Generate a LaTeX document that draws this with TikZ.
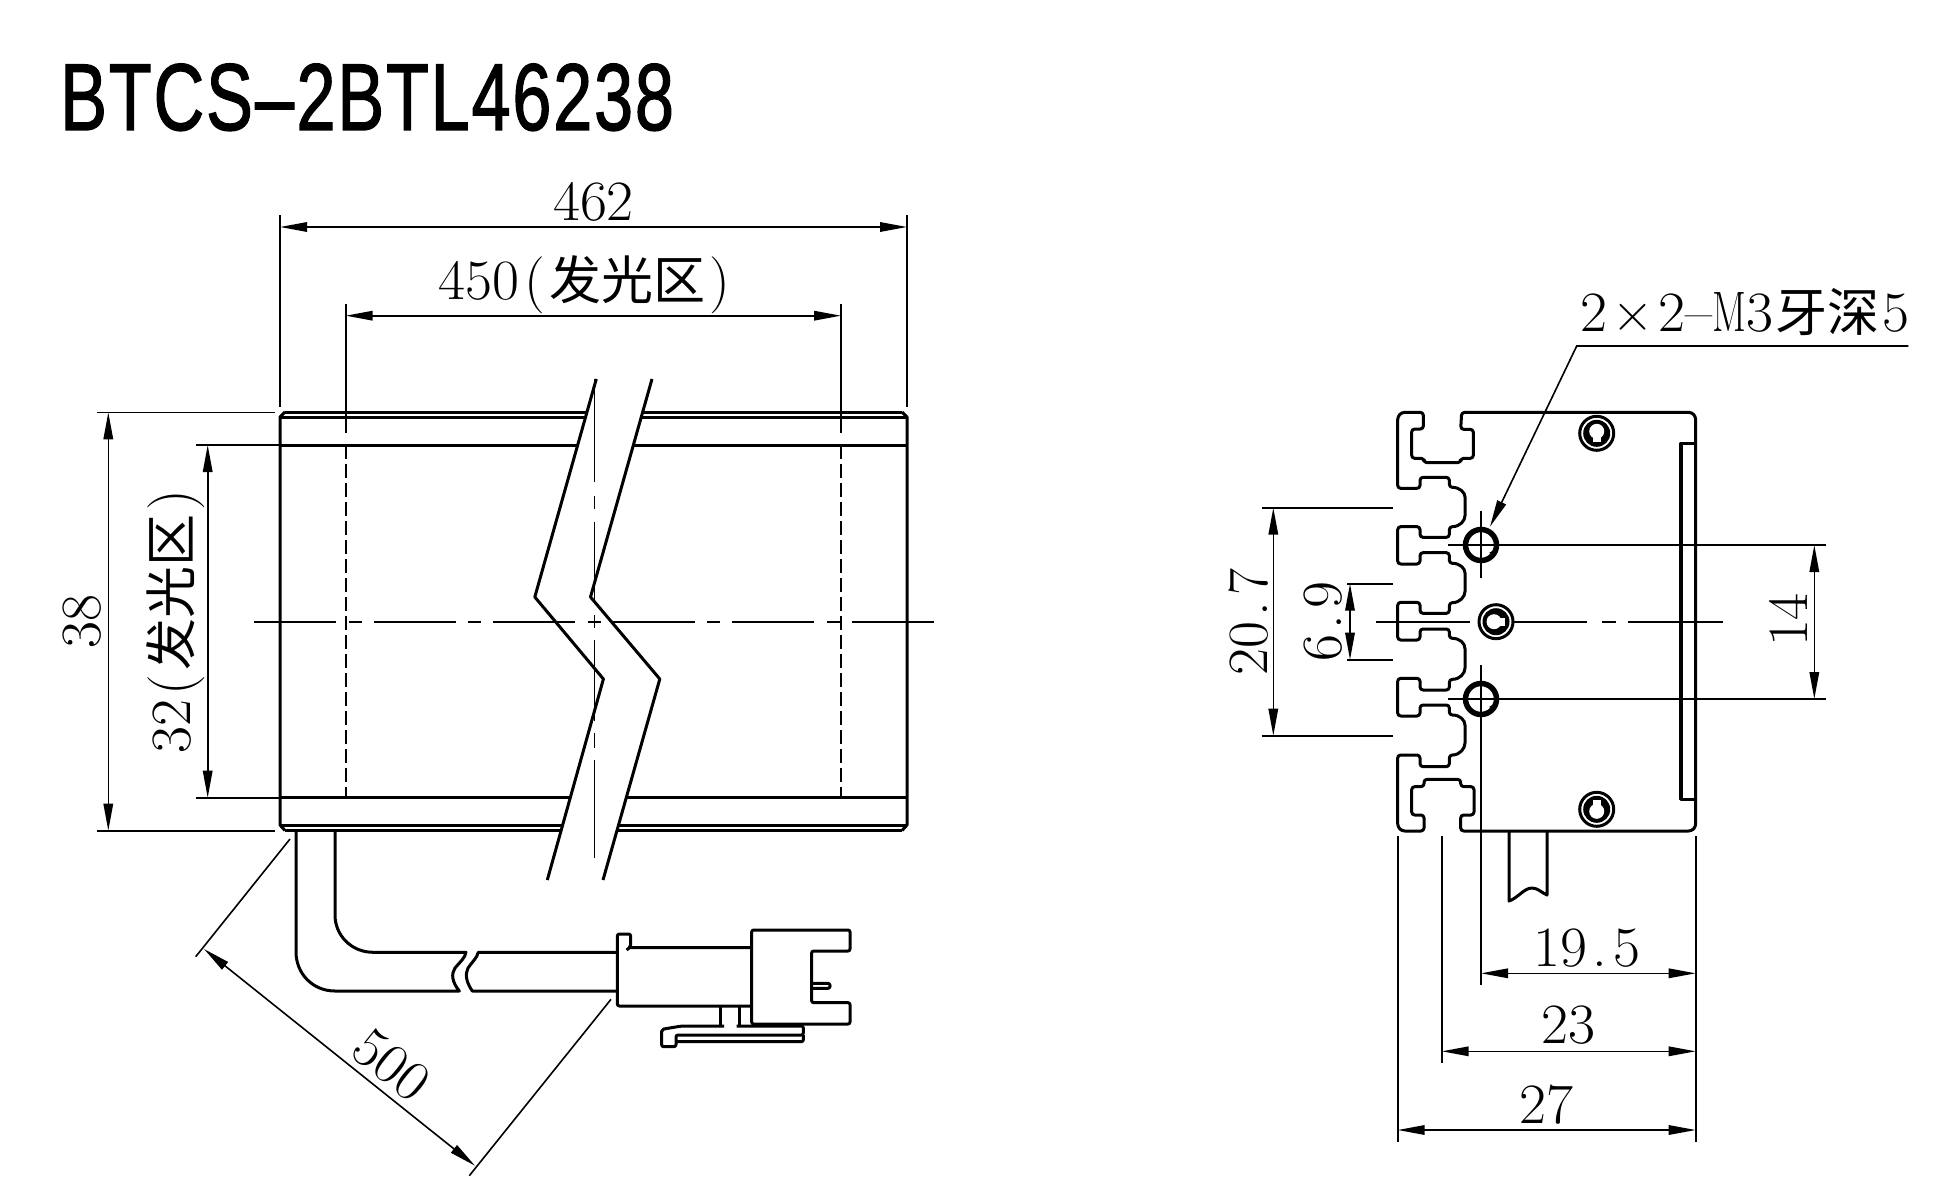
\documentclass[tikz,border=0pt]{standalone}
\usepackage{fontspec}
\usetikzlibrary{arrows.meta}
\newfontfamily\cnfont{Noto Sans CJK SC}
\newfontfamily\titlefont[FakeBold=1.5,LetterSpace=2.5]{Liberation Sans}
\newcommand{\nr}[1]{\scalebox{1.03}[1]{#1}}
\newcommand{\cn}[1]{{\cnfont\fontsize{52}{54}\selectfont #1}}
\newcommand{\sdot}{\kern5pt.\kern6pt}
\tikzset{
  outline/.style={line width=3pt,line join=round},
  thin line/.style={line width=1.6pt},
  hidden line/.style={line width=1.6pt,dash pattern=on 14pt off 5pt},
  center line/.style={line width=1.6pt,dash pattern=on 82pt off 12.5pt on 13pt off 12pt},
  dimline/.style={line width=1.6pt,{Triangle[length=27pt,width=9.5pt]}-{Triangle[length=27pt,width=9.5pt]}},
  dimtext/.style={inner sep=0pt,font=\fontsize{57}{60}\selectfont},
  screwhead/.pic={
    \draw[line width=3pt] (0,0) circle[radius=17];
    \fill (0,0) circle[radius=13.5];
    \fill[white] (0,-2) circle[radius=7.5];
    \fill[white] (-4,0) rectangle (4,9);
  },
}
\begin{document}
\begin{tikzpicture}[x=1pt,y=-1pt]
\useasboundingbox (0,0) rectangle (1940,1204);
\node[inner sep=0pt,anchor=base west,font=\titlefont\fontsize{95}{100}\selectfont] (title) at (60,130)
  {\scalebox{.74}[1]{BTCS\kern3pt–\kern3pt2BTL46238}};

% front view
\draw[outline] (285,412) -- (587,412) (280,417) -- (585.6,417) (280,445) -- (577.7,445)
  (642.7,412) -- (902,412) (641.3,417) -- (907,417) (633.4,445) -- (907,445)
  (280,797.7) -- (570.3,797.7) (280,825) -- (562.7,825) (285,830.5) -- (561.1,830.5)
  (626.3,797.7) -- (907,797.7) (618.6,825) -- (907,825) (617,830.5) -- (902,830.5);
\draw[outline] (285,412) -- (280,417) -- (280,825) -- (285,830.5)
  (902,412) -- (907,417) -- (907,825) -- (902,830.5);
\draw[outline] (596.3,379) -- (534.8,597) -- (603.4,679) -- (547.3,880);
\draw[outline] (652,379) -- (590.5,597) -- (659.8,679) -- (603,880);
\draw[hidden line] (345.7,445) -- (345.7,797.7) (841,445) -- (841,797.7);
\draw[center line] (254,621.7) -- (936,621.7);
\draw[thin line] (594.6,379) -- (594.6,481.5) (594.6,496) -- (594.6,509) (594.6,522) -- (594.6,603)
  (594.6,615) -- (594.6,628) (594.6,640) -- (594.6,721) (594.6,733) -- (594.6,748) (594.6,760) -- (594.6,858);

% cable
\draw[outline] (296,831) -- (296,951.7) .. controls (296,974) and (313,991) .. (335,991) -- (459.3,991)
  .. controls (452,982) and (451,974) .. (455,968) .. controls (460,962) and (465,958) .. (466,952.3)
  -- (373.3,952.3) .. controls (351,952.3) and (335,935) .. (335,915) -- (335,831);
\draw[outline] (616.7,952.3) -- (478.3,952.3) .. controls (477,958) and (472,962) .. (468,968)
  .. controls (465,974) and (466,982) .. (472.3,991) -- (616.7,991);

% connector
\begin{scope}[shift={(600,900)},x=1/3*1pt,y=-1/3*1pt]
\draw[outline,rounded corners=2pt] (85,143) -- (455,143) (80,150) -- (92,140) -- (92,102) -- (52,102) -- (52,318) -- (455,318);
\draw[outline,rounded corners=2pt] (455,90) -- (750,90) -- (750,153) -- (635,153) -- (635,308) -- (750,308) -- (750,372) -- (455,372) -- cycle;
\draw[outline,rounded corners=2pt] (635,250) -- (690,250) -- (690,265) -- (635,265);
\draw[outline] (362,318) -- (362,378) (418,318) -- (418,378);
\draw[outline,rounded corners=2pt] (372,378) -- (245,378) -- (185,388) -- (185,440) -- (228,440) -- (228,405) -- (610,405) -- (610,378) -- (410,378) (228,425) -- (610,425) -- (610,405);
\end{scope}

% front view dimensions
\draw[thin line] (280,215) -- (280,407) (907,215) -- (907,407);
\draw[dimline] (280,227) -- (907,227);
\node[dimtext] (len) at (593.5,201.5) {\nr{462}};
\draw[thin line] (345.7,304) -- (345.7,433) (841,304) -- (841,433);
\draw[dimline] (345.7,315.7) -- (841,315.7);
\node[dimtext] (lit) at (584.5,285) {\nr{450}\kern5pt\nr{(}\kern4pt\cn{发光区}\kern4pt\nr{)}};
\draw[thin line] (96.7,412.3) -- (275,412.3) (96.7,830.7) -- (275,830.7);
\draw[dimline] (108.3,412.3) -- (108.3,830.7);
\node[dimtext,rotate=90] (hgt) at (81.7,621.7) {\nr{38}};
\draw[thin line] (196,445) -- (280,445) (196,797.7) -- (280,797.7);
\draw[dimline] (207.7,445) -- (207.7,797.7);
\node[dimtext,rotate=90] (lith) at (176,621.7) {\nr{32}\kern5pt\nr{(}\kern4pt\cn{发光区}\kern4pt\nr{)}};
\draw[thin line] (290,839) -- (195.7,956.7) (611,999.3) -- (469.3,1175.7);
\draw[dimline] (204,949) -- (475,1165.7);
\node[dimtext,rotate=-38.6] (cab) at (391.7,1065) {\nr{500}};

% end view
\begin{scope}[shift={(1380,400)},x=1/3*1pt,y=-1/3*1pt]
\draw[outline,rounded corners=3pt] (245,37) -- (935,37) -- (947,50) -- (947,1280) -- (935,1293) -- (242,1293)
  -- (242,1245) -- (282,1245) -- (282,1160) -- (242,1160) -- (242,1138) -- (132,1138) -- (132,1160) -- (95,1160)
  -- (95,1245) -- (132,1245) -- (132,1293) -- (65,1293) -- (53,1280) -- (53,1065) -- (120,1065) -- (120,1100)
  -- (208,1100) -- (208,1065) .. controls (240,1065) and (255,1045) .. (255,1020) -- (255,985)
  .. controls (255,960) and (240,945) .. (208,945) -- (208,915) -- (120,915) -- (120,948) -- (53,948)
  -- (53,835) -- (120,835) -- (120,870) -- (208,870) -- (208,838) .. controls (240,838) and (255,820) .. (255,795) -- (255,755)
  .. controls (255,730) and (240,715) .. (208,715) -- (208,687) -- (120,687) -- (120,720) -- (53,720)
  -- (53,607) -- (120,607) -- (120,640) -- (208,640) -- (208,608) .. controls (240,608) and (255,590) .. (255,565) -- (255,528)
  .. controls (255,505) and (240,490) .. (208,490) -- (208,458) -- (120,458) -- (120,492) -- (53,492)
  -- (53,380) -- (120,380) -- (120,412) -- (208,412) -- (208,380) .. controls (240,380) and (255,362) .. (255,338) -- (255,300)
  .. controls (255,278) and (240,262) .. (208,262) -- (208,232) -- (120,232) -- (120,265) -- (53,265)
  -- (53,50) -- (65,37) -- (130,37) -- (130,87) -- (95,87) -- (95,175) -- (132,175) -- (132,188) -- (242,188)
  -- (242,175) -- (280,175) -- (280,88) -- (242,88) -- cycle;
\draw[outline,line width=3.4pt] (947,130) -- (903,130) -- (903,1198) -- (947,1198);
\end{scope}
\foreach \holey/\holename in {545/holea,699/holeb}{
  \draw[line width=5.5pt] (1481,\holey) circle[radius=15.5];
  \fill (1489,\holey+8) -- (1497,\holey+3) -- (1495,\holey+10) -- cycle;
}
\pic (screwa) at (1596.7,433.3) {screwhead};
\pic[yscale=-1] (screwb) at (1596.7,809.3) {screwhead};
\pic[rotate=90] (screwc) at (1496,621.7) {screwhead};
\draw[thin line] (1448.3,545) -- (1826,545) (1448.3,699) -- (1826,699);
\draw[thin line] (1481,511) -- (1481,578) (1481,665) -- (1481,985);
\draw[thin line] (1375.7,621.7) -- (1470,621.7) (1513,621.7) -- (1586.7,621.7) (1601.7,621.7) -- (1616,621.7) (1628,621.7) -- (1722.7,621.7);
\draw[outline] (1509,831) -- (1509,901) .. controls (1518,898) and (1524,888) .. (1532,888) .. controls (1538,888) and (1542,893) .. (1547,895) -- (1547,831);

% end view dimensions
\draw[thin line] (1261.7,507.7) -- (1393.3,507.7) (1261.7,735.7) -- (1393.3,735.7);
\draw[dimline] (1273.3,507.7) -- (1273.3,735.7);
\node[dimtext,rotate=90] (pitcha) at (1248.3,621.7) {\nr{20\sdot 7}};
\draw[thin line] (1347.3,583.7) -- (1393.3,583.7) (1347.3,659.7) -- (1393.3,659.7);
\draw[dimline] (1350,583.7) -- (1350,659.7);
\node[dimtext,rotate=90] (pitchb) at (1323.3,621.7) {\nr{6\sdot 9}};
\draw[dimline] (1814.3,545) -- (1814.3,699);
\node[dimtext,rotate=90] (holes) at (1788.3,620) {\nr{14}};
\draw[thin line] (1397.7,836) -- (1397.7,1141.7) (1441.7,836) -- (1441.7,1063) (1695.7,836) -- (1695.7,1141.7);
\draw[dimline] (1481,973.3) -- (1695.7,973.3);
\node[dimtext] (wa) at (1587.3,948.3) {\nr{19\sdot 5}};
\draw[dimline] (1441.7,1051.3) -- (1695.7,1051.3);
\node[dimtext] (wb) at (1568.3,1025) {\nr{23}};
\draw[dimline] (1397.7,1130) -- (1695.7,1130);
\node[dimtext] (wc) at (1546.7,1104.3) {\nr{27}};

% thread callout
\node[dimtext,anchor=base] (thread) at (1745,331) {\nr{2}\kern5pt×\kern5pt\nr{2–}\scalebox{.7}[1]{M}\nr{3}\kern2pt\cn{牙深}\kern3pt\nr{5}};
\draw[line width=1.6pt,-{Triangle[length=27pt,width=9.5pt]}] (1908.3,346) -- (1576.7,346) -- (1490,526.7);
\end{tikzpicture}
\end{document}
